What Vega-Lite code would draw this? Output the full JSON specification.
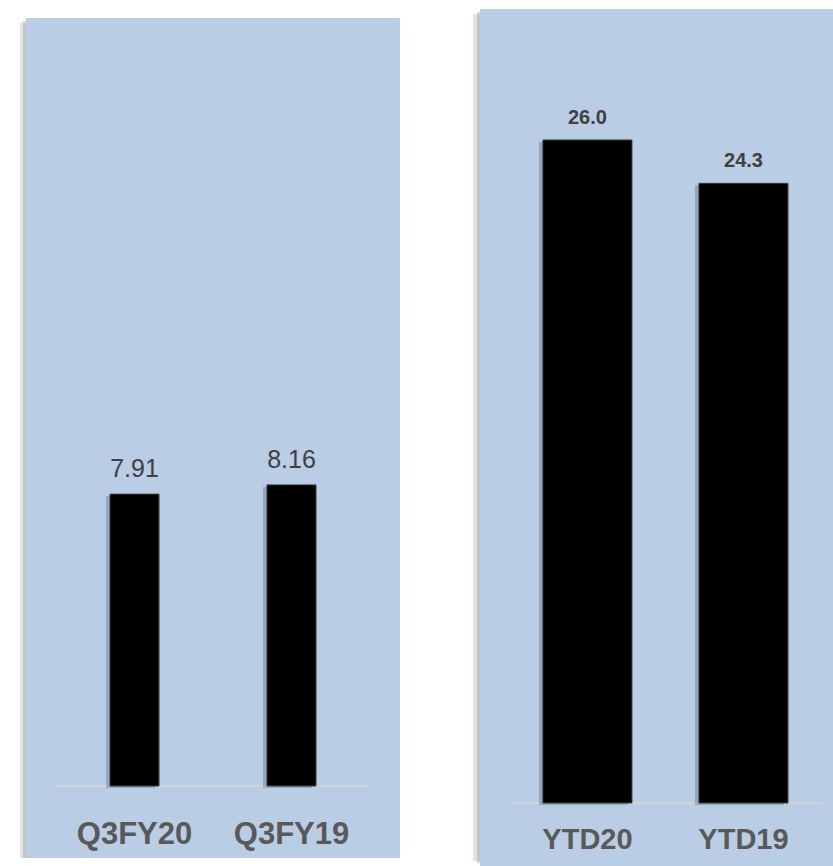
{
  "$schema": "https://vega.github.io/schema/vega-lite/v6.json",
  "padding": {"left": 20, "top": 9, "right": 0, "bottom": 0},
  "background": "white",
  "bounds": "flush",
  "spacing": 80,
  "config": {"view": {"stroke": null}},
  "hconcat": [
    {
      "width": 374,
      "height": 857,
      "data": {"values": [
        {"period": "Q3FY20", "value": 7.91, "label": "7.91"},
        {"period": "Q3FY19", "value": 8.16, "label": "8.16"}
      ]},
      "resolve": {"scale": {"x": "independent"}},
      "layer": [
        {
          "data": {"values": [{}]},
          "mark": {"type": "rect", "color": "#808080", "opacity": 0.22, "xOffset": -6, "yOffset": 5},
          "encoding": {
            "x": {"datum": 0, "type": "quantitative", "scale": {"domain": [0, 1]}, "axis": null},
            "x2": {"datum": 1},
            "y": {"datum": 20.813, "type": "quantitative", "scale": {"domain": [-2.168, 21.057]}, "axis": null},
            "y2": {"datum": -1.951}
          }
        },
        {
          "data": {"values": [{}]},
          "mark": {"type": "rect", "color": "#808080", "opacity": 0.3, "xOffset": -3, "yOffset": 3},
          "encoding": {
            "x": {"datum": 0, "type": "quantitative", "scale": {"domain": [0, 1]}, "axis": null},
            "x2": {"datum": 1},
            "y": {"datum": 20.813, "type": "quantitative", "scale": {"domain": [-2.168, 21.057]}, "axis": null},
            "y2": {"datum": -1.951}
          }
        },
        {
          "data": {"values": [{}]},
          "mark": {"type": "rect", "color": "#b9cde5"},
          "encoding": {
            "x": {"datum": 0, "type": "quantitative", "scale": {"domain": [0, 1]}, "axis": null},
            "x2": {"datum": 1},
            "y": {"datum": 20.813, "type": "quantitative", "scale": {"domain": [-2.168, 21.057]}, "axis": null},
            "y2": {"datum": -1.951}
          }
        },
        {
          "data": {"values": [{}]},
          "mark": {"type": "rule", "color": "#d6d6d6", "strokeWidth": 1.5},
          "encoding": {
            "x": {"datum": 0.0802, "type": "quantitative", "scale": {"domain": [0, 1]}, "axis": null},
            "x2": {"datum": 0.9198},
            "y": {"datum": 0, "type": "quantitative", "scale": {"domain": [-2.168, 21.057]}, "axis": null}
          }
        },
        {
          "mark": {"type": "bar", "color": "#51627a", "opacity": 0.35, "xOffset": -4, "yOffset": 2},
          "encoding": {
            "x": {"field": "period", "type": "nominal", "sort": null, "scale": {"type": "band", "paddingInner": 0.688, "paddingOuter": 0.535}, "axis": null},
            "y": {"field": "value", "type": "quantitative", "scale": {"domain": [-2.168, 21.057]}, "axis": null}
          }
        },
        {
          "mark": {"type": "bar", "color": "#000000", "stroke": "#3a3a3a", "strokeWidth": 1},
          "encoding": {
            "x": {"field": "period", "type": "nominal", "sort": null, "scale": {"type": "band", "paddingInner": 0.688, "paddingOuter": 0.535},
              "axis": {"title": null, "orient": "bottom", "offset": -23, "zindex": 2, "domain": false, "ticks": false, "labelPadding": 0, "labelBaseline": "alphabetic", "labelAngle": 0, "labelFont": "Liberation Sans", "labelFontSize": 31, "labelFontWeight": "bold", "labelColor": "#595959"}},
            "y": {"field": "value", "type": "quantitative", "scale": {"domain": [-2.168, 21.057]}, "axis": null}
          }
        },
        {
          "mark": {"type": "text", "baseline": "alphabetic", "align": "center", "dy": -17, "font": "Liberation Sans", "fontSize": 25, "color": "#404040"},
          "encoding": {
            "x": {"field": "period", "type": "nominal", "sort": null, "scale": {"type": "band", "paddingInner": 0.688, "paddingOuter": 0.535}, "axis": null},
            "y": {"field": "value", "type": "quantitative", "scale": {"domain": [-2.168, 21.057]}, "axis": null},
            "text": {"field": "label"}
          }
        }
      ]
    },
    {
      "width": 353,
      "height": 857,
      "data": {"values": [
        {"period": "YTD20", "value": 26.0, "label": "26.0"},
        {"period": "YTD19", "value": 24.3, "label": "24.3"}
      ]},
      "resolve": {"scale": {"x": "independent"}},
      "layer": [
        {
          "data": {"values": [{}]},
          "mark": {"type": "rect", "color": "#808080", "opacity": 0.22, "xOffset": -7, "yOffset": 5},
          "encoding": {
            "x": {"datum": 0, "type": "quantitative", "scale": {"domain": [0, 1]}, "axis": null},
            "x2": {"datum": 1},
            "y": {"datum": 31.137, "type": "quantitative", "scale": {"domain": [-2.471, 31.137]}, "axis": null},
            "y2": {"datum": -2.275}
          }
        },
        {
          "data": {"values": [{}]},
          "mark": {"type": "rect", "color": "#808080", "opacity": 0.3, "xOffset": -3, "yOffset": 3},
          "encoding": {
            "x": {"datum": 0, "type": "quantitative", "scale": {"domain": [0, 1]}, "axis": null},
            "x2": {"datum": 1},
            "y": {"datum": 31.137, "type": "quantitative", "scale": {"domain": [-2.471, 31.137]}, "axis": null},
            "y2": {"datum": -2.353}
          }
        },
        {
          "data": {"values": [{}]},
          "mark": {"type": "rect", "color": "#b9cde5"},
          "encoding": {
            "x": {"datum": 0, "type": "quantitative", "scale": {"domain": [0, 1]}, "axis": null},
            "x2": {"datum": 1},
            "y": {"datum": 31.137, "type": "quantitative", "scale": {"domain": [-2.471, 31.137]}, "axis": null},
            "y2": {"datum": -2.471}
          }
        },
        {
          "data": {"values": [{}]},
          "mark": {"type": "rule", "color": "#d6d6d6", "strokeWidth": 1.5},
          "encoding": {
            "x": {"datum": 0.085, "type": "quantitative", "scale": {"domain": [0, 1]}, "axis": null},
            "x2": {"datum": 0.969},
            "y": {"datum": 0, "type": "quantitative", "scale": {"domain": [-2.471, 31.137]}, "axis": null}
          }
        },
        {
          "mark": {"type": "bar", "color": "#51627a", "opacity": 0.35, "xOffset": -4, "yOffset": 2},
          "encoding": {
            "x": {"field": "period", "type": "nominal", "sort": null, "scale": {"type": "band", "paddingInner": 0.4295, "paddingOuter": 0.346, "align": 0.583}, "axis": null},
            "y": {"field": "value", "type": "quantitative", "scale": {"domain": [-2.471, 31.137]}, "axis": null}
          }
        },
        {
          "mark": {"type": "bar", "color": "#000000", "stroke": "#3a3a3a", "strokeWidth": 1},
          "encoding": {
            "x": {"field": "period", "type": "nominal", "sort": null, "scale": {"type": "band", "paddingInner": 0.4295, "paddingOuter": 0.346, "align": 0.583},
              "axis": {"title": null, "orient": "bottom", "offset": -18, "zindex": 2, "domain": false, "ticks": false, "labelPadding": 0, "labelBaseline": "alphabetic", "labelAngle": 0, "labelFont": "Liberation Sans", "labelFontSize": 29, "labelFontWeight": "bold", "labelColor": "#595959"}},
            "y": {"field": "value", "type": "quantitative", "scale": {"domain": [-2.471, 31.137]}, "axis": null}
          }
        },
        {
          "mark": {"type": "text", "baseline": "alphabetic", "align": "center", "dy": -16, "font": "Liberation Sans", "fontSize": 20, "fontWeight": "bold", "color": "#404040"},
          "encoding": {
            "x": {"field": "period", "type": "nominal", "sort": null, "scale": {"type": "band", "paddingInner": 0.4295, "paddingOuter": 0.346, "align": 0.583}, "axis": null},
            "y": {"field": "value", "type": "quantitative", "scale": {"domain": [-2.471, 31.137]}, "axis": null},
            "text": {"field": "label"}
          }
        }
      ]
    }
  ]
}
